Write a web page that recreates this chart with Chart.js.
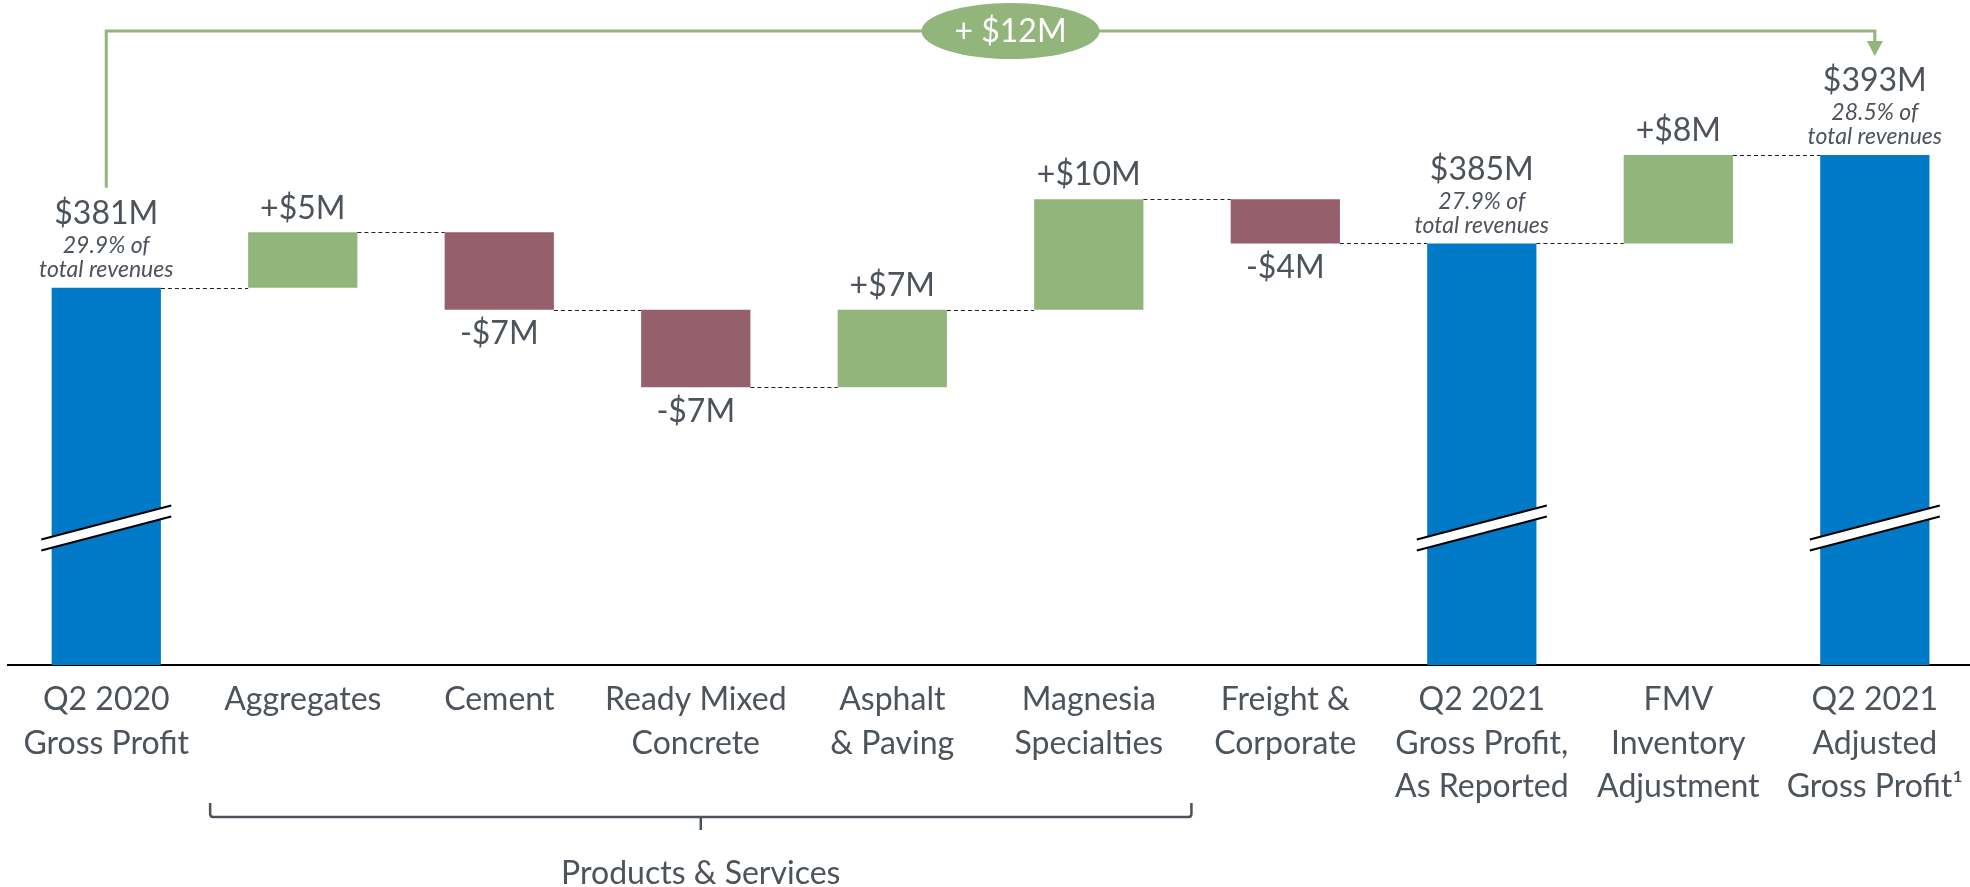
<!DOCTYPE html>
<html lang="en">
<head>
<meta charset="utf-8">
<title>Gross Profit Bridge</title>
<script src="https://cdn.jsdelivr.net/npm/chart.js@4.4.1/dist/chart.umd.min.js"></script>
<style>
	html, body { margin: 0; padding: 0; background: #fff; overflow: hidden; }
	#wrap { position: relative; width: 1976px; height: 887px; }
</style>
</head>
<body>
<div id="wrap"><canvas id="bridgeChart"></canvas></div>
<script>
var categories = [
	["Q2 2020", "Gross Profit"],
	["Aggregates"],
	["Cement"],
	["Ready Mixed", "Concrete"],
	["Asphalt", "& Paving"],
	["Magnesia", "Specialties"],
	["Freight &", "Corporate"],
	["Q2 2021", "Gross Profit,", "As Reported"],
	["FMV", "Inventory", "Adjustment"],
	["Q2 2021", "Adjusted", "Gross Profit\u00b9"]
];
// floating bars: [start, end] in $M
var startVals = [0, 381, 386, 379, 372, 379, 389, 0, 385, 0];
var endVals = [381, 386, 379, 372, 379, 389, 385, 385, 393, 393];
var barKinds = ["total", "up", "down", "down", "up", "up", "down", "total", "up", "total"];
var valueLabels = ["$381M", "+$5M", "-$7M", "-$7M", "+$7M", "+$10M", "-$4M", "$385M", "+$8M", "$393M"];
var pctLabels = ["29.9% of", "", "", "", "", "", "", "27.9% of", "", "28.5% of"];
var totalChangeLabel = "+ $12M";
var groupLabel = "Products & Services";
var groupFrom = 1, groupTo = 5;
var yMin = 346.9, yMax = 407;

var textColor = "#4d535a";
var green = "#92b57c";
var colors = { total: "#007ac6", up: "#92b57c", down: "#955f6b" };
var fontFamily = "Lato, 'Open Sans', sans-serif";

var bridgeDecor = {
	id: "bridgeDecor",
	afterDatasetsDraw: function (chart) {
		var ctx = chart.ctx;
		var bars = chart.getDatasetMeta(0).data;
		var ys = chart.scales.y;
		var area = chart.chartArea;
		var i, py;
		ctx.save();

		// dashed connectors between bars
		ctx.strokeStyle = "#222";
		ctx.lineWidth = 1;
		ctx.setLineDash([4, 3]);
		for (i = 0; i < bars.length - 1; i++) {
			py = Math.round(ys.getPixelForValue(endVals[i])) + 0.5;
			ctx.beginPath();
			ctx.moveTo(bars[i].x + bars[i].width / 2, py);
			ctx.lineTo(bars[i + 1].x - bars[i + 1].width / 2, py);
			ctx.stroke();
		}
		ctx.setLineDash([]);

		// axis break marks on the total bars
		var yc = area.bottom - 137;
		for (i = 0; i < bars.length; i++) {
			if (barKinds[i] !== "total") continue;
			var x0 = bars[i].x - 65, x1 = bars[i].x + 65;
			ctx.fillStyle = "#fff";
			ctx.beginPath();
			ctx.moveTo(x0, yc + 11.5);
			ctx.lineTo(x1, yc - 22.5);
			ctx.lineTo(x1, yc - 11.5);
			ctx.lineTo(x0, yc + 22.5);
			ctx.closePath();
			ctx.fill();
			ctx.strokeStyle = "#000";
			ctx.lineWidth = 2;
			ctx.beginPath();
			ctx.moveTo(x0, yc + 11.5);
			ctx.lineTo(x1, yc - 22.5);
			ctx.moveTo(x0, yc + 22.5);
			ctx.lineTo(x1, yc - 11.5);
			ctx.stroke();
		}

		// value labels
		ctx.textAlign = "center";
		ctx.textBaseline = "middle";
		ctx.fillStyle = textColor;
		for (i = 0; i < bars.length; i++) {
			var top = ys.getPixelForValue(Math.max(startVals[i], endVals[i]));
			var bottom = ys.getPixelForValue(Math.min(startVals[i], endVals[i]));
			ctx.font = "32px " + fontFamily;
			if (barKinds[i] === "total") {
				ctx.fillText(valueLabels[i], bars[i].x, top - 74);
				ctx.font = "italic 23px " + fontFamily;
				ctx.fillText(pctLabels[i], bars[i].x, top - 42);
				ctx.fillText("total revenues", bars[i].x, top - 18);
			} else if (barKinds[i] === "up") {
				ctx.fillText(valueLabels[i], bars[i].x, top - 24);
			} else {
				ctx.fillText(valueLabels[i], bars[i].x, Math.min(bottom, area.bottom) + 24);
			}
		}

		// top arrow: first total to last total
		var first = bars[0], last = bars[bars.length - 1];
		var lineY = 31;
		var startTop = ys.getPixelForValue(endVals[0]) - 74 - 26;
		var endTop = ys.getPixelForValue(endVals[endVals.length - 1]) - 74 - 25;
		ctx.strokeStyle = green;
		ctx.lineWidth = 3;
		ctx.beginPath();
		ctx.moveTo(first.x, startTop);
		ctx.lineTo(first.x, lineY);
		ctx.lineTo(last.x, lineY);
		ctx.lineTo(last.x, endTop - 14);
		ctx.stroke();
		ctx.fillStyle = green;
		ctx.beginPath();
		ctx.moveTo(last.x - 8, endTop - 15);
		ctx.lineTo(last.x + 8, endTop - 15);
		ctx.lineTo(last.x, endTop);
		ctx.closePath();
		ctx.fill();

		var ex = (first.x + last.x) / 2 + 20;
		ctx.beginPath();
		ctx.ellipse(ex, lineY, 89, 28, 0, 0, Math.PI * 2);
		ctx.fill();
		ctx.fillStyle = "#fff";
		ctx.font = "32px " + fontFamily;
		ctx.fillText(totalChangeLabel, ex, lineY + 1);

		// bracket under the product categories
		var bx0 = bars[groupFrom].x - bars[groupFrom].width / 2 - 38;
		var bx1 = bars[groupTo].x + bars[groupTo].width / 2 + 48;
		var bmid = (bx0 + bx1) / 2;
		var bTop = area.bottom + 138, bLine = area.bottom + 152, bTick = area.bottom + 165;
		ctx.strokeStyle = textColor;
		ctx.lineWidth = 2.5;
		ctx.beginPath();
		ctx.moveTo(bx0, bTop);
		ctx.lineTo(bx0, bLine - 3);
		ctx.quadraticCurveTo(bx0, bLine, bx0 + 3, bLine);
		ctx.lineTo(bx1 - 3, bLine);
		ctx.quadraticCurveTo(bx1, bLine, bx1, bLine - 3);
		ctx.lineTo(bx1, bTop);
		ctx.moveTo(bmid, bLine);
		ctx.lineTo(bmid, bTick);
		ctx.stroke();
		ctx.fillStyle = textColor;
		ctx.font = "32px " + fontFamily;
		ctx.fillText(groupLabel, bmid, area.bottom + 209);

		ctx.restore();
	}
};

var bridgeChart = new Chart(document.getElementById("bridgeChart"), {
	type: "bar",
	data: {
		labels: categories,
		datasets: [{
			data: startVals.map(function (s, i) { return [s, endVals[i]]; }),
			backgroundColor: barKinds.map(function (k) { return colors[k]; }),
			borderWidth: 0,
			barPercentage: 0.556,
			categoryPercentage: 1
		}]
	},
	options: {
		responsive: true,
		maintainAspectRatio: false,
		animation: false,
		layout: { padding: { left: 8, right: 0, top: 0, bottom: 0 } },
		plugins: {
			legend: { display: false },
			tooltip: { enabled: false }
		},
		scales: {
			x: {
				grid: { display: false, drawTicks: false },
				border: { display: true, color: "#000", width: 2 },
				ticks: {
					color: textColor,
					font: { family: fontFamily, size: 32, lineHeight: 1.36 },
					padding: 13,
					maxRotation: 0,
					autoSkip: false
				},
				afterFit: function (axis) { axis.height = 222; }
			},
			y: {
				display: false,
				min: yMin,
				max: yMax
			}
		}
	},
	plugins: [bridgeDecor]
});
</script>
</body>
</html>
